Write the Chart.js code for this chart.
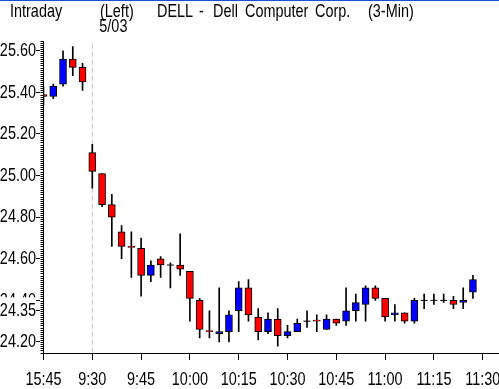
<!DOCTYPE html>
<html>
<head>
<meta charset="utf-8">
<script src="https://cdn.jsdelivr.net/npm/chart.js@4.4.1/dist/chart.umd.min.js"></script>
<style>
    html, body { margin: 0; padding: 0; background: #fff; overflow: hidden; }
    #marco { width: 499px; height: 389px; overflow: hidden; }
</style>
</head>
<body>
<div id="marco"><canvas id="grafico" width="514" height="389"></canvas></div>
<script>
// Velas de 3 minutos: 5 de la sesión anterior (15:45-15:57) y luego 5/03 desde 9:30
const aperturas = [25.39, 25.38, 25.44, 25.56, 25.52, 25.11, 25.01, 24.86, 24.73, 24.66,
                   24.65, 24.52, 24.60, 24.57, 24.57, 24.54, 24.40, 24.255, 24.24, 24.25,
                   24.35, 24.46, 24.32, 24.25, 24.31, 24.23, 24.25, 24.30, 24.305, 24.26,
                   24.31, 24.30, 24.35, 24.38, 24.46, 24.41, 24.33, 24.34, 24.30, 24.40,
                   24.40, 24.40, 24.40, 24.39, 24.44];
const maximos  = [25.43, 25.44, 25.60, 25.62, 25.54, 25.15, 25.01, 24.91, 24.76, 24.73,
                   24.70, 24.59, 24.61, 24.58, 24.72, 24.54, 24.41, 24.35, 24.46, 24.35,
                   24.49, 24.50, 24.36, 24.34, 24.36, 24.28, 24.31, 24.35, 24.33, 24.33,
                   24.31, 24.46, 24.43, 24.47, 24.47, 24.41, 24.38, 24.34, 24.41, 24.43,
                   24.43, 24.43, 24.42, 24.46, 24.52];
const minimos  = [25.34, 25.37, 25.43, 25.48, 25.41, 24.94, 24.85, 24.66, 24.60, 24.51,
                   24.42, 24.49, 24.51, 24.46, 24.52, 24.30, 24.22, 24.22, 24.20, 24.20,
                   24.25, 24.30, 24.21, 24.24, 24.18, 24.22, 24.25, 24.27, 24.25, 24.26,
                   24.28, 24.28, 24.30, 24.30, 24.40, 24.30, 24.30, 24.29, 24.29, 24.36,
                   24.38, 24.39, 24.36, 24.36, 24.41];
const cierres  = [25.38, 25.43, 25.56, 25.52, 25.45, 25.02, 24.86, 24.80, 24.66, 24.655,
                   24.52, 24.57, 24.57, 24.57, 24.55, 24.41, 24.26, 24.25, 24.25, 24.33,
                   24.46, 24.33, 24.25, 24.31, 24.23, 24.25, 24.29, 24.30, 24.30, 24.31,
                   24.29, 24.35, 24.39, 24.46, 24.41, 24.32, 24.34, 24.30, 24.40, 24.40,
                   24.40, 24.40, 24.38, 24.40, 24.50];

// Etiquetas del eje X, una cada 5 velas (15 minutos)
const etiquetasX = ['15:45', '9:30', '9:45', '10:00', '10:15', '10:30', '10:45', '11:00', '11:15', '11:30'];
// Etiquetas del eje Y (24.35 va al final para que se dibuje encima de 24.40)
const etiquetasY = [24.20, 24.40, 24.60, 24.80, 25.00, 25.20, 25.40, 25.60, 24.35];

const inicioSesion = 5;        // primera vela del 5/03
const textoSesion = '5/03';

// Cabecera: texto y posición x de cada trozo
const titulos = [
    ['Intraday', 10], ['(Left)', 100], ['DELL', 157], ['-', 199], ['Dell', 213],
    ['Computer', 245], ['Corp.', 315], ['(3-Min)', 368]
];

const yMin = 24.147, yMax = 25.647;
const xMax = 47.05;

const fuente = "'Liberation Sans', Arial, sans-serif";
const estrechez = 0.76;   // la letra original es muy estrecha

// Textos de la cabecera y línea azul superior
const cabecera = {
    id: 'cabecera',
    afterDraw(chart) {
        const ctx = chart.ctx;
        ctx.save();
        ctx.fillStyle = '#1c4fd8';
        ctx.fillRect(0, 0, chart.width, 1);
        ctx.fillStyle = '#000';
        ctx.font = '19px ' + fuente;
        ctx.textAlign = 'left';
        ctx.textBaseline = 'alphabetic';
        titulos.forEach(([texto, x]) => ctx.fillText(texto, x, 17));
        const xSep = chart.scales.x.getPixelForValue(inicioSesion);
        ctx.fillText(textoSesion, xSep + 7, 32);
        ctx.restore();
    }
};

const indices = cierres.map((_, i) => i);
const cuerpos = indices.map(i => ({ x: i, y: [aperturas[i], cierres[i]] }));
const mechas = indices.map(i => ({ x: i, y: [minimos[i], maximos[i]] }));
const dojis = indices.filter(i => aperturas[i] === cierres[i]).map(i => ({ x: i, y: cierres[i] }));
const colores = indices.map(i => cierres[i] > aperturas[i] ? '#0000ff' : '#ff0000');

const ctx = document.getElementById('grafico').getContext('2d');

// Todo el texto del lienzo se dibuja comprimido en horizontal
const fillTextOriginal = ctx.fillText;
ctx.fillText = function (texto, x, y) {
    const ancho = this.measureText(texto).width * estrechez;
    return fillTextOriginal.call(this, texto, x, y, ancho);
};

new Chart(ctx, {
    type: 'bar',
    data: {
        datasets: [
            {
                data: cuerpos,
                backgroundColor: colores,
                borderColor: '#000',
                borderWidth: 1,
                borderSkipped: false,
                barThickness: 7,
                grouped: false,
                order: 1
            },
            {
                data: mechas,
                backgroundColor: '#000',
                borderWidth: 0,
                barThickness: 1,
                grouped: false,
                order: 2
            },
            {
                type: 'scatter',
                data: dojis,
                pointStyle: 'line',
                pointRadius: 3.5,
                borderColor: '#000',
                borderWidth: 1,
                order: 0
            },
            {
                type: 'line',
                data: [{ x: inicioSesion, y: yMin }, { x: inicioSesion, y: yMax }],
                borderColor: '#c0c0c0',
                borderWidth: 1,
                borderDash: [5, 3],
                pointRadius: 0,
                order: 3
            }
        ]
    },
    options: {
        responsive: false,
        animation: false,
        layout: { padding: { top: 41 } },
        plugins: {
            legend: { display: false },
            tooltip: { enabled: false }
        },
        scales: {
            x: {
                type: 'linear',
                min: 0,
                max: xMax,
                offset: false,
                grid: { offset: false, drawOnChartArea: false, color: '#000', tickLength: 7 },
                border: { color: '#000' },
                ticks: {
                    color: '#000',
                    font: { family: fuente, size: 19 },
                    padding: 8,
                    maxRotation: 0,
                    autoSkip: false,
                    callback: v => etiquetasX[Math.round(v / 5)]
                },
                afterBuildTicks: eje => { eje.ticks = etiquetasX.map((_, i) => ({ value: i * 5 })); },
                afterFit: eje => { eje.height = 36; }
            },
            y: {
                position: 'left',
                weight: 1,
                min: yMin,
                max: yMax,
                beginAtZero: false,
                grid: { drawOnChartArea: false, color: '#000', tickLength: 4 },
                border: { display: false },
                ticks: {
                    color: '#000',
                    font: { family: fuente, size: 19 },
                    padding: 0,
                    autoSkip: false,
                    showLabelBackdrop: c => c.tick && c.tick.value === 24.35,
                    backdropColor: '#fff',
                    backdropPadding: { top: 2, bottom: 0, left: 0, right: 0 },
                    callback: v => v.toFixed(2)
                },
                afterBuildTicks: eje => { eje.ticks = etiquetasY.map(v => ({ value: v })); },
                afterFit: eje => { eje.width = 40; }
            },
            yMenor: {
                position: 'left',
                weight: 0,
                min: yMin,
                max: yMax,
                grid: { drawOnChartArea: false, color: '#000', tickLength: 3 },
                border: { color: '#000' },
                ticks: { display: false, stepSize: 0.01, includeBounds: false },
                afterFit: eje => { eje.width = 3.5; }
            }
        }
    },
    plugins: [cabecera]
});
</script>
</body>
</html>
